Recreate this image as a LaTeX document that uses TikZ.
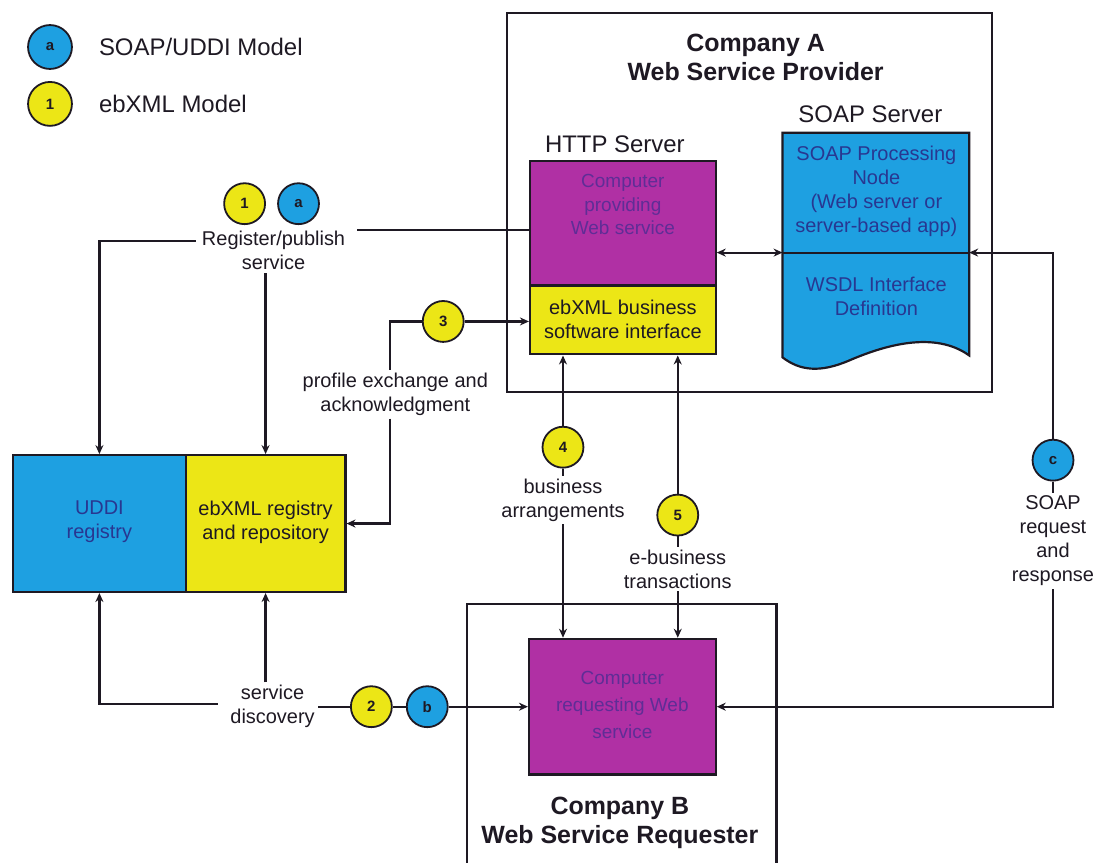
\documentclass[tikz,border=0pt]{standalone}
\usepackage{fontspec}
\setmainfont{Liberation Sans}
\usetikzlibrary{arrows.meta,calc}

\definecolor{soapblue}{RGB}{30,160,225}
\definecolor{ebyellow}{RGB}{236,230,22}
\definecolor{hostpurple}{RGB}{176,48,164}
\definecolor{purpletext}{RGB}{95,45,150}
\definecolor{bluetext}{RGB}{40,55,145}
\definecolor{ink}{RGB}{30,25,35}

\newcommand\lblfont{\fontsize{20}{24}\selectfont}
\newcommand\boxfont{\fontsize{20}{24}\selectfont}
\newcommand\headfont{\fontsize{24}{28}\selectfont}
\newcommand\titlefont{\fontsize{25}{29}\selectfont\bfseries}

\begin{document}
\begin{tikzpicture}[x=1pt,y=-1pt,
  every path/.style={line width=2.2pt, draw=ink},
  box/.style={draw=ink, line width=2.2pt, inner sep=0pt},
  boxtext/.style={align=center, font=\boxfont, text=ink, inner sep=1pt},
  lbl/.style={align=center, font=\lblfont, text=ink, inner sep=2pt},
  marker/.style={circle, draw=ink, line width=1.8pt, minimum size=41pt,
                 inner sep=0pt, font=\fontsize{15}{15}\selectfont\bfseries, text=ink},
  ymark/.style={marker, fill=ebyellow},
  bmark/.style={marker, fill=soapblue},
  tip/.tip={Stealth[length=9pt,width=8pt]},
  arr/.style={-tip},
  both/.style={tip-tip}]

\useasboundingbox (0,0) rectangle (1104,862);
\fill[white] (0,0) rectangle (1104,862);

% legend
\node[bmark, minimum size=44pt] (legA) at (49,46) {a};
\node[ymark, minimum size=44pt] (leg1) at (49,103) {1};
\node[anchor=west, font=\headfont, text=ink, inner sep=0pt] (legAtxt) at (97,46) {SOAP/UDDI Model};
\node[anchor=west, font=\headfont, text=ink, inner sep=0pt] (leg1txt) at (97,103) {ebXML Model};

% company frames
\draw (507,12) rectangle (993,392);
\draw (467,870) -- (467,604) -- (777,604) -- (777,870);
\node[align=center, font=\titlefont, text=ink] (compA) at (756,56) {Company A\\Web Service Provider};
\node[align=center, font=\titlefont, text=ink] (compBtitle) at (620,823) {Company B\\Web Service Requester};

% HTTP server
\node[font=\headfont, text=ink] (httplbl) at (615,143) {HTTP Server};
\node[box, fill=hostpurple, minimum width=186pt, minimum height=125pt] (httpP) at (623,222.5) {};
\node[box, fill=ebyellow, minimum width=186pt, minimum height=69pt] (httpY) at (623,319.5) {};
\node[boxtext, text=purpletext, font=\fontsize{19}{23.5}\selectfont] (httpPtxt) at (623,204) {Computer\\providing\\Web service};
\node[boxtext] (httpYtxt) at (623,319) {ebXML business\\software interface};

% SOAP server document
\node[font=\headfont, text=ink] (soaplbl) at (871,113) {SOAP Server};
\path[draw=ink, fill=soapblue, line width=2.2pt]
  (783,132) -- (970,132) -- (970,355)
  .. controls (935,330) and (885,345) .. (850,360)
  .. controls (820,373) and (800,370) .. (783,357) -- cycle;
\coordinate (docL) at (783,252);
\coordinate (docR) at (970,252);
\draw (docL) -- (docR);
\node[boxtext, text=bluetext] (soapnode) at (877,191) {SOAP Processing\\Node\\(Web server or\\server-based app)};
\node[boxtext, text=bluetext] (wsdl) at (877,296) {WSDL Interface\\Definition};

% registries
\node[box, fill=soapblue, minimum width=173pt, minimum height=137pt] (uddi) at (98.5,523.5) {};
\node[box, fill=ebyellow, minimum width=160pt, minimum height=137pt] (ebreg) at (265,523.5) {};
\node[boxtext, text=bluetext] (uddiTxt) at (98.5,522) {UDDI\\registry};
\node[boxtext] (ebregTxt) at (265,522) {ebXML registry\\and repository};

% requesting computer
\node[box, fill=hostpurple, minimum width=187pt, minimum height=136pt] (compB) at (622.5,707) {};
\node[boxtext, text=purpletext, font=\fontsize{19}{27}\selectfont] (compBtxt) at (622.5,705) {Computer\\requesting Web\\service};

% labels
\node[lbl] (reg) at (273,250) {Register/publish\\service};
\node[lbl] (prof) at (395,394) {profile exchange and\\acknowledgment};
\node[lbl] (bus) at (563,500) {business\\arrangements};
\node[lbl] (ebt) at (678,569) {e-business\\transactions};
\node[lbl] (sd) at (272,707) {service\\discovery};
\node[lbl] (sreq) at (1054,541) {SOAP\\request\\and\\response};

% markers on connectors
\node[ymark] (c1) at (244,203) {1};
\node[bmark] (ca) at (298,203) {a};
\node[ymark] (c3) at (443,321) {3};
\node[ymark] (c4) at (563,447) {4};
\node[ymark] (c5) at (678,515) {5};
\node[ymark] (c2) at (371,707) {2};
\node[bmark] (cb) at (427,707) {b};
\node[bmark] (cc) at (1054,460) {c};

% register / publish
\coordinate (regL) at (195,240);
\coordinate (regR) at (357,229);
\draw[arr] (regL) -| (uddi.north);
\draw[arr] (ebreg.north |- reg.south) -- (ebreg.north);
\draw (regR) -- (httpP.west |- regR);

% profile exchange
\coordinate (pcorner) at (390,321);
\draw[arr] (c3) -- (httpY.west |- c3);
\draw (c3) -- (pcorner) -- (pcorner |- prof.north);
\draw[arr] (pcorner |- prof.south) |- (ebreg.east);

% business arrangements
\draw[arr] (c4) -- (c4 |- httpY.south);
\draw (c4) -- (c4 |- bus.north);
\draw[arr] (c4 |- bus.south) -- (c4 |- compB.north);

% e-business transactions
\draw[arr] (c5) -- (c5 |- httpY.south);
\draw (c5) -- (c5 |- ebt.north);
\draw[arr] (c5 |- ebt.south) -- (c5 |- compB.north);

% HTTP server <-> SOAP server
\draw[both] (httpP.east |- docL) -- (docL);

% service discovery
\coordinate (sdL) at (217,704);
\draw[arr] (sdL) -| (uddi.south);
\draw[arr] (ebreg.south |- sd.north) -- (ebreg.south);
\draw (c2) -- (c2 -| sd.east);
\draw (c2) -- (cb);
\draw[arr] (cb) -- (compB.west);

% SOAP request and response
\coordinate (cTop) at (1054,252);
\draw[arr] (cc) -- (cTop) -- (docR);
\draw (cc) -- (cc |- sreq.north);
\draw[arr] (cc |- sreq.south) |- (compB.east);

\end{tikzpicture}
\end{document}
